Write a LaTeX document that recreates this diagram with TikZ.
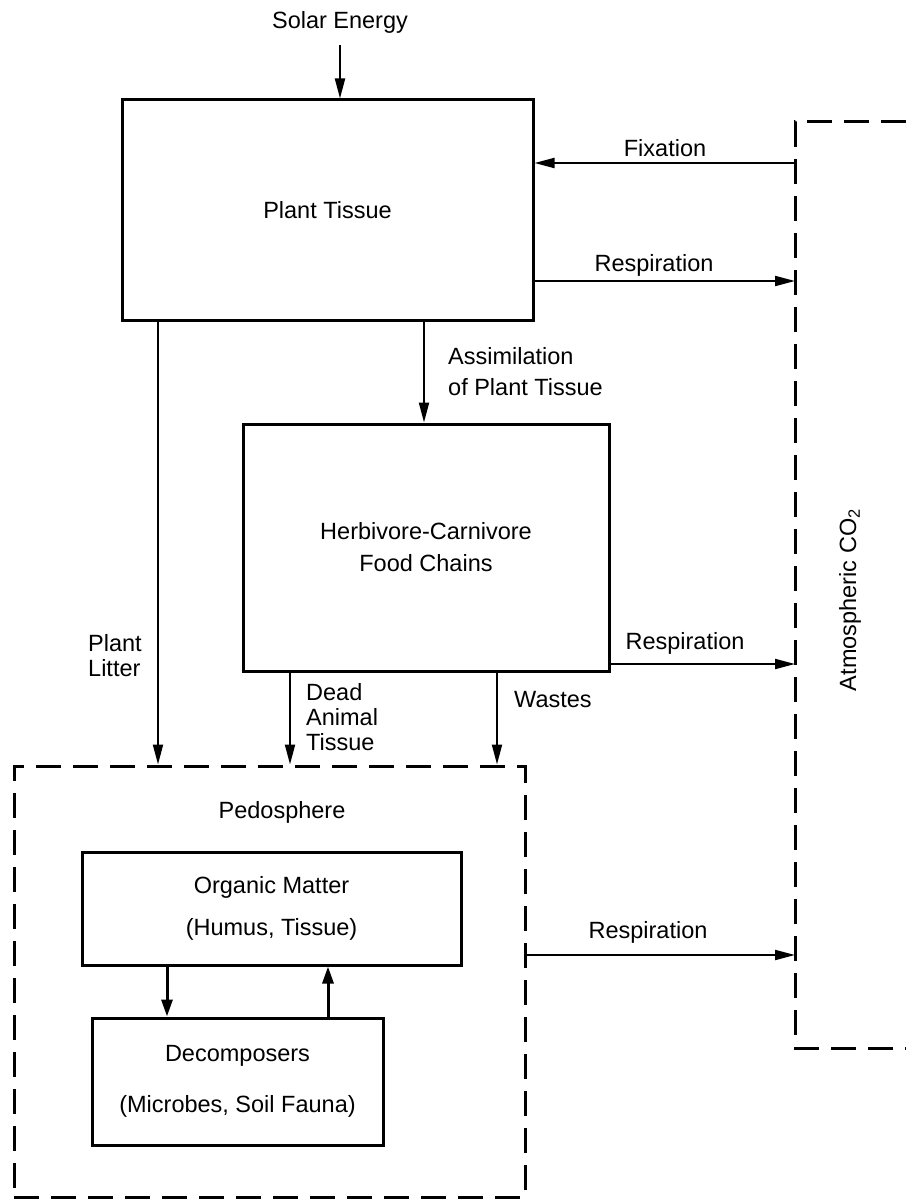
\documentclass[tikz,border=0pt]{standalone}
\usepackage{fontspec}
\setmainfont{Liberation Sans}
\usetikzlibrary{arrows.meta}
\begin{document}
\begin{tikzpicture}[x=1pt,y=-1pt,
  box/.style={draw, line width=3pt, inner sep=0pt},
  dashbox/.style={draw, line width=3pt, dash pattern=on 25pt off 12pt},
  flow/.style={-{Triangle[length=20pt,width=10pt]}, line width=2pt},
  flowb/.style={-{Triangle[length=17pt,width=11pt]}, line width=3pt},
  lbl/.style={inner sep=0pt},
  every node/.style={font=\fontsize{23.5}{25}\selectfont}
]
\useasboundingbox (0,0) rectangle (906,1204);

% boxes
\node[box, minimum width=411pt, minimum height=220pt] (plant) at (327.5,210) {Plant Tissue};
\node[box, minimum width=366pt, minimum height=247pt, align=center] (herb) at (426,547.5) {Herbivore-Carnivore\\[7pt]Food Chains};
\node[dashbox, minimum width=511pt, minimum height=431pt] (pedo) at (269.5,981.5) {};
\node[box, minimum width=379pt, minimum height=113pt, align=center] (org) at (271.5,908.5) {Organic Matter\\[17pt](Humus, Tissue)};
\node[box, minimum width=291pt, minimum height=127pt, align=center] (dec) at (237.5,1081.5) {Decomposers\\[26pt](Microbes, Soil Fauna)};

% atmospheric CO2 (open on the right)
\coordinate (atl) at (795,122);
\coordinate (abl) at (795,1048);
\coordinate (atr) at (906,122);
\coordinate (abr) at (906,1048);
\draw[dashbox] (atr) -- (atl) -- (abl) -- (abr);
\node[lbl, rotate=90] (atmo) at (850,600) {Atmospheric CO\textsubscript{2}};

% solar energy
\node[lbl] (solar) at (340,22) {Solar Energy};
\coordinate (xsol) at (340,0);
\coordinate (solstart) at (340,45);
\draw[flow] (solstart) -- (plant.north -| xsol);

% fixation / respiration plant
\coordinate (fix) at (795,163);
\coordinate (resp1) at (795,281);
\draw[flow] (fix) -- (plant.east |- fix);
\draw[flow] (plant.east |- resp1) -- (resp1);
\node[lbl] (tfix) at (665,148) {Fixation};
\node[lbl] (tresp1) at (654,265) {Respiration};

% assimilation
\coordinate (xas) at (424,0);
\draw[flow] (plant.south -| xas) -- (herb.north -| xas);
\node[lbl, anchor=west, align=left] (tas) at (448,372) {Assimilation\\[6pt]of Plant Tissue};

% herbivore respiration
\coordinate (resp2) at (795,664);
\draw[flow] (herb.east |- resp2) -- (resp2);
\node[lbl] (tresp2) at (685,643) {Respiration};

% plant litter
\coordinate (xlit) at (158,0);
\draw[flow] (plant.south -| xlit) -- (pedo.north -| xlit);
\node[lbl, anchor=west, align=left] (tlit) at (88,656) {Plant\\Litter};

% dead animal tissue, wastes
\coordinate (xdead) at (290,0);
\coordinate (xwas) at (497,0);
\draw[flow] (herb.south -| xdead) -- (pedo.north -| xdead);
\draw[flow] (herb.south -| xwas) -- (pedo.north -| xwas);
\node[lbl, anchor=west, align=left] (tdead) at (306,717) {Dead\\Animal\\Tissue};
\node[lbl, anchor=west] (twas) at (514,700) {Wastes};

% pedosphere
\node[lbl] (tpedo) at (282,812) {Pedosphere};
\coordinate (resp3) at (795,955);
\draw[flow] (pedo.east |- resp3) -- (resp3);
\node[lbl] (tresp3) at (648,932) {Respiration};

% organic <-> decomposers
\coordinate (xdown) at (167,0);
\coordinate (xup) at (328,0);
\draw[flowb] (org.south -| xdown) -- (dec.north -| xdown);
\draw[flowb] (dec.north -| xup) -- (org.south -| xup);
\end{tikzpicture}
\end{document}
